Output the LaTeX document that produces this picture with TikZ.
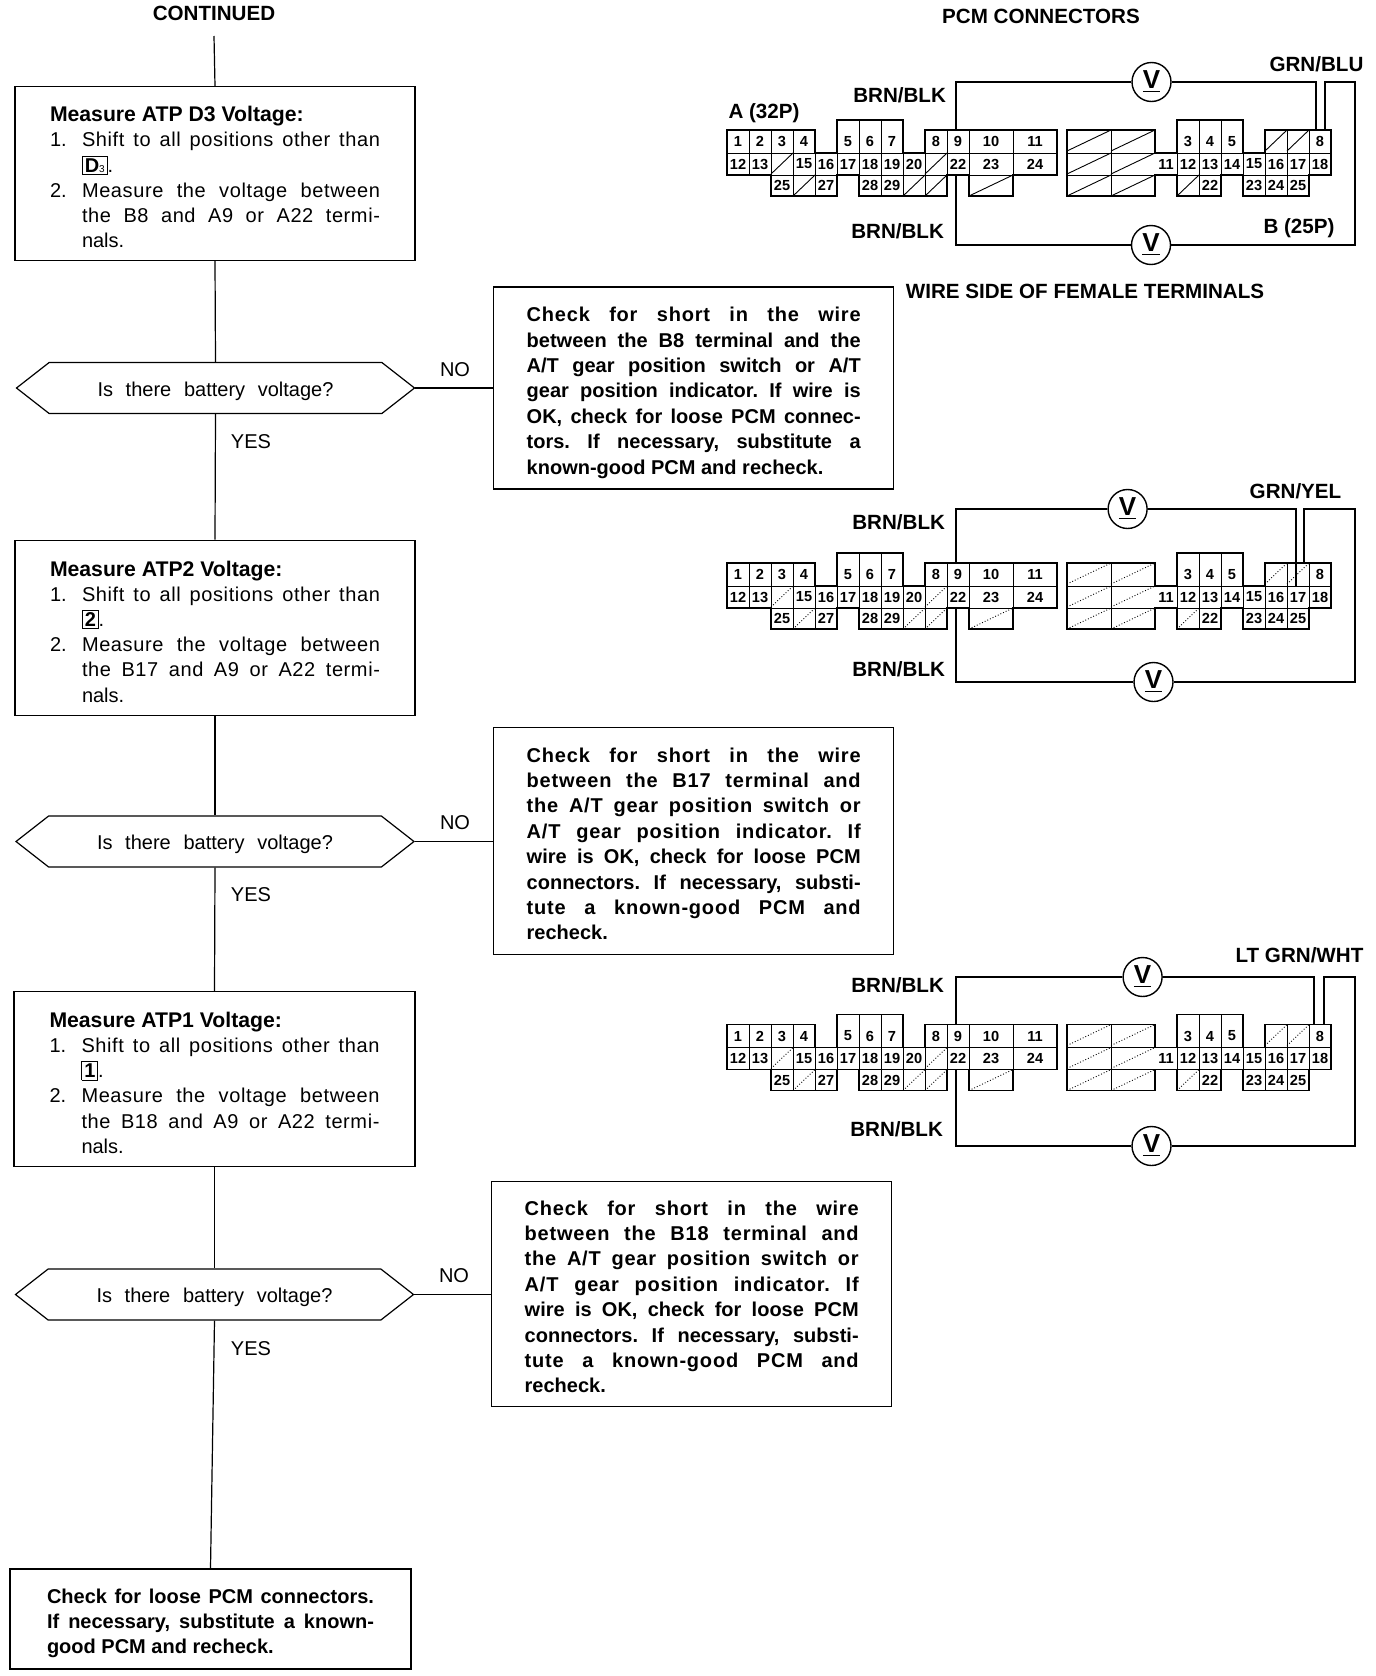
\documentclass[tikz,border=0pt]{standalone}
\usepackage{fontspec}
\setmainfont{Liberation Sans}
\usetikzlibrary{shapes.symbols}
\newcommand{\headl}[1]{\rule{0pt}{15pt}{\fontsize{10.6}{12.6}\selectfont\bfseries #1}}
\newcommand{\stepl}[1]{\makebox[149pt][s]{\addfontfeature{LetterSpace=3}#1}}
\newcommand{\chkl}[1]{\makebox[167pt][s]{#1}}
\newcommand{\chkw}[1]{\makebox[167pt][s]{\addfontfeature{LetterSpace=4}#1}}
\newcommand{\keybox}[1]{{\setlength{\fboxsep}{1pt}\fbox{#1}}}
\newcommand{\quest}{\rule{0pt}{10.5pt}\makebox[118pt][s]{Is there battery voltage?}}
\def\cw{22}
\tikzset{
  stepbox/.style={draw, line width=0.6pt, inner sep=0pt, font=\fontsize{10}{12.6}\selectfont\frenchspacing},
  checkbox/.style={stepbox, font=\fontsize{10}{12.7}\selectfont\bfseries\frenchspacing},
  question/.style={stepbox, signal, signal to=west and east, signal pointer angle=76, minimum width=199pt, minimum height=25.5pt},
  link/.style={line width=0.6pt},
  wire/.style={line width=0.8pt},
  lbl/.style={font=\fontsize{10}{12}\selectfont},
  wlbl/.style={font=\fontsize{10.3}{12}\selectfont\bfseries},
  cell/.style={inner sep=0pt, minimum width=11pt, minimum height=11pt, font=\fontsize{7.3}{7.5}\selectfont\bfseries},
  vmeter/.style={draw, circle, fill=white, line width=0.7pt, inner sep=0pt, minimum size=19.5pt, font=\fontsize{13}{14}\selectfont\bfseries},
  outline/.style={line width=0.9pt},
  sep/.style={line width=0.45pt},
}
% connector face: #1 name prefix, #2 top edge, #3 look of the slashes
\newcommand{\pcmconn}[3]{
\begin{scope}[shift={(727,#2)}, name prefix=#1-]
% block A
  \draw[outline] (0,0) -- ({4*\cw},0) -- ({4*\cw},23) -- ({5*\cw},23) -- ({5*\cw},-10) -- ({8*\cw},-10) -- ({8*\cw},23)
    -- ({9*\cw},23) -- ({9*\cw},0) -- ({15*\cw},0) -- ({15*\cw},45) -- ({13*\cw},45) -- ({13*\cw},66) -- ({11*\cw},66)
    -- ({11*\cw},45) -- ({10*\cw},45) -- ({10*\cw},66) -- ({6*\cw},66) -- ({6*\cw},45) -- ({5*\cw},45) -- ({5*\cw},66)
    -- ({2*\cw},66) -- ({2*\cw},45) -- (0,45) -- cycle;
  \draw[sep] (0,23) -- ({15*\cw},23) (0,45) -- ({15*\cw},45);
  \foreach \k in {1,2,3,10,11,13} \draw[sep] ({\k*\cw},0) -- ({\k*\cw},23);
  \foreach \k in {6,7} \draw[sep] ({\k*\cw},-10) -- ({\k*\cw},23);
  \foreach \k in {1,2,3,4,5,6,7,8,9,10,11,13} \draw[sep] ({\k*\cw},23) -- ({\k*\cw},45);
  \foreach \k in {3,4,7,8,9} \draw[sep] ({\k*\cw},45) -- ({\k*\cw},66);
  \foreach \k/\ya/\w in {2/23/1, 3/45/1, 9/23/1, 8/45/1, 9/45/1, 11/45/2} \draw[#3] ({\k*\cw},{\ya+21}) -- ({(\k+\w)*\cw},\ya);
  \foreach \n/\k in {1/0,2/1,3/2,4/3,5/5,6/6,7/7,8/9,9/10} \node[cell] (a\n) at ({(\k+.5)*\cw},11.5) {\n};
  \foreach \n/\k in {12/0,13/1,15/3,16/4,17/5,18/6,19/7,20/8,22/10} \node[cell] (a\n) at ({(\k+.5)*\cw},34) {\n};
  \foreach \n/\k in {25/2,27/4,28/6,29/7} \node[cell] (a\n) at ({(\k+.5)*\cw},55.5) {\n};
  \node[cell] (a10) at ({12*\cw},11.5) {10};
  \node[cell] (a11) at ({14*\cw},11.5) {11};
  \node[cell] (a23) at ({12*\cw},34) {23};
  \node[cell] (a24) at ({14*\cw},34) {24};
% block B
  \begin{scope}[shift={(340,0)}]
  \draw[outline] (0,0) -- ({4*\cw},0) -- ({4*\cw},23) -- ({5*\cw},23) -- ({5*\cw},-10) -- ({8*\cw},-10) -- ({8*\cw},23)
    -- ({9*\cw},23) -- ({9*\cw},0) -- ({12*\cw},0) -- ({12*\cw},45) -- ({11*\cw},45) -- ({11*\cw},66) -- ({8*\cw},66)
    -- ({8*\cw},45) -- ({7*\cw},45) -- ({7*\cw},66) -- ({5*\cw},66) -- ({5*\cw},45) -- ({4*\cw},45) -- ({4*\cw},66)
    -- (0,66) -- cycle;
  \draw[sep] (0,23) -- ({12*\cw},23) (0,45) -- ({12*\cw},45) ({2*\cw},0) -- ({2*\cw},66);
  \foreach \k in {10,11} \draw[sep] ({\k*\cw},0) -- ({\k*\cw},23);
  \foreach \k in {6,7} \draw[sep] ({\k*\cw},-10) -- ({\k*\cw},23);
  \foreach \k in {5,6,7,8,9,10,11} \draw[sep] ({\k*\cw},23) -- ({\k*\cw},45);
  \foreach \k in {6,9,10} \draw[sep] ({\k*\cw},45) -- ({\k*\cw},66);
  \foreach \k/\ya/\w in {0/0/2, 2/0/2, 0/23/2, 2/23/2, 0/45/2, 2/45/2, 5/45/1, 9/0/1, 10/0/1} \draw[#3] ({\k*\cw},{\ya+21}) -- ({(\k+\w)*\cw},\ya);
  \foreach \n/\k in {3/5,4/6,5/7,8/11} \node[cell] (b\n) at ({(\k+.5)*\cw},11.5) {\n};
  \foreach \n/\k in {11/4,12/5,13/6,14/7,15/8,16/9,17/10,18/11} \node[cell] (b\n) at ({(\k+.5)*\cw},34) {\n};
  \foreach \n/\k in {22/6,23/8,24/9,25/10} \node[cell] (b\n) at ({(\k+.5)*\cw},55.5) {\n};
  \coordinate (b17t) at ({10.5*\cw},0);
  \end{scope}
\end{scope}
}
\begin{document}
\begin{tikzpicture}[x=0.5pt, y=-0.5pt]
\useasboundingbox (0,0) rectangle (1376,1676);
\node[wlbl] (cont) at (214,13) {CONTINUED};
\coordinate (start) at (214,36);
% step 1
\node[stepbox, minimum width=200pt, minimum height=87pt] (measd) at (215,173.5) {%
  \begin{tabular}{@{}p{16pt}@{}l@{}}
    \multicolumn{2}{@{}l}{\headl{Measure ATP D3 Voltage:}} \\
    1. & \stepl{Shift to all positions other than} \\
    & \keybox{\textbf{D}\tiny 3}. \\
    2. & \stepl{Measure the voltage between} \\
    & \stepl{the B8 and A9 or A22 termi-} \\
    & nals.
  \end{tabular}
};
\node[question] (quesd) at (215.5,388) {\quest};
\node[lbl] (yesd) at (251,442) {YES};
\node[lbl] (nod) at (455,370) {NO};
\node[checkbox, minimum width=200pt, minimum height=101pt] (chkd) at (693.7,388) {%
  \begin{tabular}{@{}l@{}}
    \rule{0pt}{13.7pt}\chkw{Check for short in the wire} \\
    \chkl{between the B8 terminal and the} \\
    \chkl{A/T gear position switch or A/T} \\
    \chkl{gear position indicator. If wire is} \\
    \chkl{OK, check for loose PCM connec-} \\
    \chkl{tors. If necessary, substitute a} \\
    known-good PCM and recheck.
  \end{tabular}
};
% step 2
\node[stepbox, minimum width=200pt, minimum height=87.5pt] (meastwo) at (215,627.8) {%
  \begin{tabular}{@{}p{16pt}@{}l@{}}
    \multicolumn{2}{@{}l}{\headl{Measure ATP2 Voltage:}} \\
    1. & \stepl{Shift to all positions other than} \\
    & \keybox{\textbf{2}}. \\
    2. & \stepl{Measure the voltage between} \\
    & \stepl{the B17 and A9 or A22 termi-} \\
    & nals.
  \end{tabular}
};
\node[question] (questwo) at (215,841.5) {\quest};
\node[lbl] (yestwo) at (251,895) {YES};
\node[lbl] (notwo) at (455,823) {NO};
\node[checkbox, minimum width=200pt, minimum height=113.5pt] (chktwo) at (693.7,841) {%
  \begin{tabular}{@{}l@{}}
    \rule{0pt}{13.7pt}\chkw{Check for short in the wire} \\
    \chkw{between the B17 terminal and} \\
    \chkw{the A/T gear position switch or} \\
    \chkw{A/T gear position indicator. If} \\
    \chkl{wire is OK, check for loose PCM} \\
    \chkl{connectors. If necessary, substi-} \\
    \chkw{tute a known-good PCM and} \\
    recheck.
  \end{tabular}
};
% step 3
\node[stepbox, minimum width=200.5pt, minimum height=87.5pt] (measone) at (214.5,1079) {%
  \begin{tabular}{@{}p{16pt}@{}l@{}}
    \multicolumn{2}{@{}l}{\headl{Measure ATP1 Voltage:}} \\
    1. & \stepl{Shift to all positions other than} \\
    & \keybox{\textbf{1}}. \\
    2. & \stepl{Measure the voltage between} \\
    & \stepl{the B18 and A9 or A22 termi-} \\
    & nals.
  \end{tabular}
};
\node[question] (quesone) at (214.5,1294.5) {\quest};
\node[lbl] (yesone) at (251,1349) {YES};
\node[lbl] (noone) at (454,1276) {NO};
\node[checkbox, minimum width=200pt, minimum height=112.5pt] (chkone) at (691.7,1294) {%
  \begin{tabular}{@{}l@{}}
    \rule{0pt}{13.7pt}\chkw{Check for short in the wire} \\
    \chkw{between the B18 terminal and} \\
    \chkw{the A/T gear position switch or} \\
    \chkw{A/T gear position indicator. If} \\
    \chkl{wire is OK, check for loose PCM} \\
    \chkl{connectors. If necessary, substi-} \\
    \chkw{tute a known-good PCM and} \\
    recheck.
  \end{tabular}
};
% last box
\node[checkbox, minimum width=200.5pt, minimum height=50pt] (chklast) at (210.5,1619) {%
  \begin{tabular}{@{}l@{}}
    \rule{0pt}{13.2pt}\makebox[163.5pt][s]{Check for loose PCM connectors.} \\
    \makebox[163.5pt][s]{If necessary, substitute a known-} \\
    good PCM and recheck.
  \end{tabular}
};
%%%%%%%%%%%%%%%%
\draw[link] (start) -- (measd.north);
\draw[link] (measd.south) -- (quesd.north);
\draw[link] (quesd.south) -- (meastwo.north);
\draw[link] (meastwo.south) -- (questwo.north);
\draw[link] (questwo.south) -- (measone.north);
\draw[link] (measone.south) -- (quesone.north);
\draw[link] (quesone.south) -- (chklast.north);
\draw[link] (quesd.east) -- (quesd.east -| chkd.west);
\draw[link] (questwo.east) -- (questwo.east -| chktwo.west);
\draw[link] (quesone.east) -- (quesone.east -| chkone.west);
% connectors
\node[wlbl] (pcm) at (1041,16) {PCM CONNECTORS};
\node[wlbl] (side) at (1085,291) {WIRE SIDE OF FEMALE TERMINALS};
\pcmconn{c1}{130}{sep}
\pcmconn{c2}{563}{sep, densely dotted}
\pcmconn{c3}{1024.5}{sep, densely dotted}
% first connector
\node[wlbl] (alabel) at (764,113) {A (32P)};
\node[wlbl] (blabel) at (1299,228) {B (25P)};
\node[wlbl] (c1up) at (899.6,95) {BRN/BLK};
\node[wlbl] (c1lo) at (897.6,231) {BRN/BLK};
\node[wlbl] (c1col) at (1316.5,64) {GRN/BLU};
\node[vmeter] (c1vu) at (1151.5,82) {\underline{V}};
\node[vmeter] (c1vl) at (1151,245) {\underline{V}};
\coordinate (c1tr) at (1355,82);
\coordinate (c1br) at (1355,245);
\draw[wire] ([xshift=-1pt]c1-a9.north) |- (c1vu.west);
\draw[wire] (c1vu.east) -| ([xshift=-2pt]c1-b8.north);
\draw[wire] ([xshift=2.4pt]c1-b8.north) |- (c1tr) -- (c1br) -- (c1vl.east);
\draw[wire] (c1vl.west) -| ([xshift=-1pt]c1-a22.south);
% second connector
\node[wlbl] (c2up) at (898.7,522) {BRN/BLK};
\node[wlbl] (c2lo) at (898.7,669) {BRN/BLK};
\node[wlbl] (c2col) at (1295.5,491) {GRN/YEL};
\node[vmeter] (c2vu) at (1127.6,509) {\underline{V}};
\node[vmeter] (c2vl) at (1153.5,682) {\underline{V}};
\coordinate (c2tr) at (1355,509);
\coordinate (c2br) at (1355,682);
\draw[wire] ([xshift=-1pt]c2-a9.north) |- (c2vu.west);
\draw[wire] (c2vu.east) -| ([xshift=-1pt]c2-b17.north);
\draw[wire] ([xshift=3pt]c2-b17t) |- (c2tr) -- (c2br) -- (c2vl.east);
\draw[wire] (c2vl.west) -| ([xshift=-1pt]c2-a22.south);
% third connector
\node[wlbl] (c3up) at (897.6,985.6) {BRN/BLK};
\node[wlbl] (c3lo) at (896.6,1129.6) {BRN/BLK};
\node[wlbl] (c3col) at (1299.5,955.6) {LT GRN/WHT};
\node[vmeter] (c3vu) at (1142.6,977) {\underline{V}};
\node[vmeter] (c3vl) at (1151.5,1146) {\underline{V}};
\coordinate (c3tr) at (1355,977);
\coordinate (c3br) at (1355,1146);
\draw[wire] ([xshift=-1pt]c3-a9.north) |- (c3vu.west);
\draw[wire] (c3vu.east) -| ([xshift=-3pt]c3-b8.north);
\draw[wire] ([xshift=2pt]c3-b8.north) |- (c3tr) -- (c3br) -- (c3vl.east);
\draw[wire] (c3vl.west) -| ([xshift=-1pt]c3-a22.south);
\end{tikzpicture}
\end{document}
